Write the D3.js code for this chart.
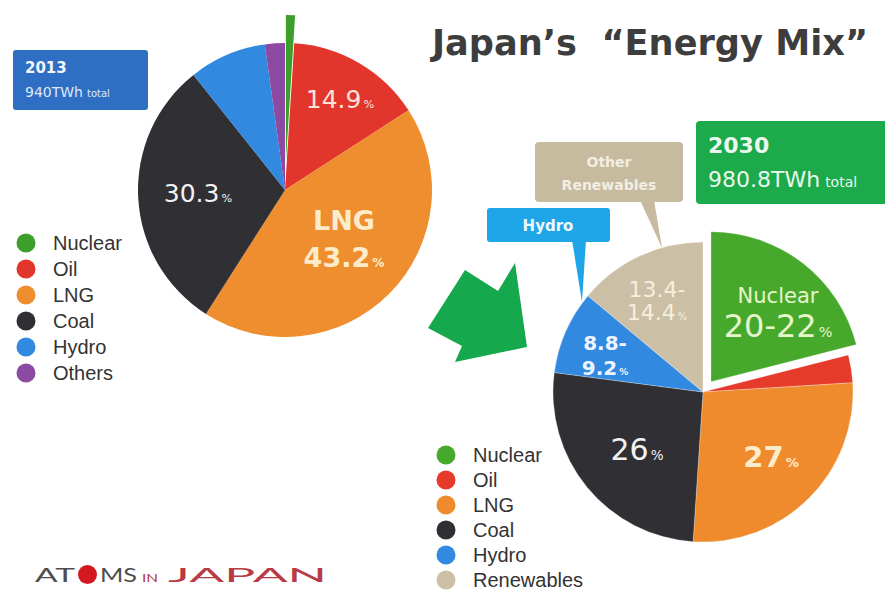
<!DOCTYPE html>
<html><head><meta charset="utf-8">
<script src="https://cdn.jsdelivr.net/npm/d3@7"></script>
<style>html,body{margin:0;padding:0;background:#fff;}svg{display:block;}</style>
</head><body>
<script>
// ---- data ----
const cats2013 = ["Nuclear","Oil","LNG","Coal","Hydro","Others"];
const vals2013 = [1.0, 14.9, 43.2, 30.3, 8.5, 2.2];
const cats2030 = ["Nuclear","Oil","LNG","Coal","Hydro","Renewables"];
const vals2030 = [21, 3, 27, 26, 9, 13.9];
const labels2013 = [
  {lines:[["14.9","%"]], dx:55, dy:-82, bold:false, color:"#fbe3dc", size:25},
  {lines:[["30.3","%"]], dx:-87, dy:12, bold:false, color:"#f2f2f2", size:25},
  {lines:[["LNG",""],["43.2","%"]], dx:59, dy:40, bold:true, color:"#fdeccb", size:27, gap:37}
];
const labels2030 = [
  {lines:[["Nuclear",""],["20-22","%"]], dx:75, dy:-89, bold:false, color:"#e6f6cc", sizes:[21,32], gap:34},
  {lines:[["13.4-",""],["14.4","%"]], dx:-46, dy:-95, bold:false, color:"#f6efdf", sizes:[22,22], gap:23},
  {lines:[["8.8-",""],["9.2","%"]], dx:-98, dy:-42, bold:true, color:"#eef4ff", sizes:[20,20], gap:25},
  {lines:[["26","%"]], dx:-66, dy:68, bold:false, color:"#f2f2f2", sizes:[30]},
  {lines:[["27","%"]], dx:68, dy:75, bold:true, color:"#fdeccb", sizes:[29]}
];
const colors2013 = {Nuclear:"#3c9f2c", Oil:"#e2352b", LNG:"#ef8e2f", Coal:"#2f2f34", Hydro:"#3189e0", Others:"#8c4aa2"};
const colors2030 = {Nuclear:"#47a92b", Oil:"#e63a2b", LNG:"#ef8b2d", Coal:"#2f2f34", Hydro:"#3189e0", Renewables:"#cbbfa5"};

const W = 885, H = 593;
const svg = d3.select("body").append("svg").attr("width", W).attr("height", H);
const FONT = "'DejaVu Sans', Verdana, sans-serif";
const LFONT = "'Liberation Sans', Arial, sans-serif";

// ---- Title ----
svg.append("text").attr("x", 432).attr("y", 55)
  .attr("font-family", FONT).attr("font-weight", "bold").attr("font-size", 36)
  .style("white-space", "pre")
  .attr("fill", "#3d3d3d").attr("textLength", 436).attr("lengthAdjust", "spacingAndGlyphs")
  .text("Japan\u2019s  \u201cEnergy Mix\u201d");

// ---- pie helper ----
function drawPie(cx, cy, r, cats, vals, colors, explode, stroke) {
  const pie = d3.pie().sort(null).value(d => d.v);
  const arcs = pie(cats.map((c, i) => ({c, v: vals[i]})));
  const arc = d3.arc().innerRadius(0).outerRadius(r);
  const g = svg.append("g").attr("transform", `translate(${cx},${cy})`);
  g.selectAll("path").data(arcs).join("path")
    .attr("d", arc)
    .attr("fill", d => colors[d.data.c])
    .attr("stroke", stroke || "none").attr("stroke-width", stroke ? 0.8 : 0)
    .attr("transform", d => {
      const e = explode[d.data.c] || 0;
      const a = (d.startAngle + d.endAngle) / 2;
      return `translate(${e * Math.sin(a)},${-e * Math.cos(a)})`;
    });
  return g;
}

function drawLabels(g, labels) {
  labels.forEach(l => {
    l.lines.forEach((ln, i) => {
      const size = l.sizes ? l.sizes[i] : l.size;
      const t = g.append("text").attr("x", l.dx).attr("y", l.dy + i * (l.gap || 0))
        .attr("text-anchor", "middle").attr("font-family", FONT)
        .attr("font-weight", l.bold ? "bold" : "normal")
        .attr("font-size", size).attr("fill", l.color);
      t.append("tspan").text(ln[0]);
      if (ln[1]) t.append("tspan").attr("font-size", size * 0.45).attr("dx", 2).text(ln[1]);
    });
  });
}

// ---- 2013 pie ----
const g1 = drawPie(285, 190, 147, cats2013, vals2013, colors2013, {Nuclear: 28}, null);
drawLabels(g1, labels2013);

// ---- 2030 pie ----
const g2 = drawPie(703, 392, 150, cats2030, vals2030, colors2030, {Nuclear: 13}, "rgba(255,255,255,0.35)");
drawLabels(g2, labels2030);

// ---- 2013 box ----
svg.append("rect").attr("x", 13).attr("y", 50).attr("width", 135).attr("height", 60).attr("rx", 3).attr("fill", "#2f6fc3");
svg.append("text").attr("x", 25).attr("y", 73).attr("font-family", FONT).attr("font-weight", "bold")
  .attr("font-size", 15).attr("fill", "#f2f6fc").text("2013");
const t13 = svg.append("text").attr("x", 25).attr("y", 97).attr("font-family", FONT)
  .attr("font-size", 14).attr("fill", "#dce8f8");
t13.append("tspan").text("940TWh");
t13.append("tspan").attr("font-size", 10).attr("dx", 4).text("total");

// ---- 2030 box ----
svg.append("rect").attr("x", 696).attr("y", 121).attr("width", 200).attr("height", 83).attr("rx", 4).attr("fill", "#1caa4b");
svg.append("text").attr("x", 708).attr("y", 153).attr("font-family", FONT).attr("font-weight", "bold")
  .attr("font-size", 22).attr("fill", "#eaf8ee").text("2030");
const t30 = svg.append("text").attr("x", 708).attr("y", 187).attr("font-family", FONT)
  .attr("font-size", 22).attr("fill", "#eaf8ee");
t30.append("tspan").text("980.8TWh");
t30.append("tspan").attr("font-size", 14).attr("dx", 5).text("total");

// ---- callouts ----
svg.append("path").attr("d", "M640,200 L654,200 L662,248 Z").attr("fill", "#c6ba9f");
svg.append("rect").attr("x", 535).attr("y", 142).attr("width", 148).attr("height", 60).attr("rx", 4).attr("fill", "#c6ba9f");
svg.append("text").attr("x", 609).attr("y", 167).attr("text-anchor", "middle").attr("font-family", FONT)
  .attr("font-weight", "bold").attr("font-size", 14).attr("fill", "#f3eee2").text("Other");
svg.append("text").attr("x", 609).attr("y", 190).attr("text-anchor", "middle").attr("font-family", FONT)
  .attr("font-weight", "bold").attr("font-size", 14).attr("fill", "#f3eee2").text("Renewables");

svg.append("path").attr("d", "M572,240 L586,240 L582,302 Z").attr("fill", "#1ea6e9");
svg.append("rect").attr("x", 487).attr("y", 208).attr("width", 123).attr("height", 34).attr("rx", 3).attr("fill", "#1ea6e9");
svg.append("text").attr("x", 548).attr("y", 231).attr("text-anchor", "middle").attr("font-family", FONT)
  .attr("font-weight", "bold").attr("font-size", 15).attr("fill", "#eef8ff").text("Hydro");

// ---- arrow ----
svg.append("polygon").attr("points", "465,270 498,291 515,263 527,347 455,362 462,346 428,328").attr("fill", "#16a84c");

// ---- legends ----
function legend(x, y0, step, cats, colors) {
  const g = svg.append("g");
  cats.forEach((c, i) => {
    g.append("circle").attr("cx", x).attr("cy", y0 + i * step).attr("r", 9.5).attr("fill", colors[c]);
    g.append("text").attr("x", x + 27).attr("y", y0 + i * step + 7).attr("font-family", LFONT)
      .attr("font-size", 20).attr("fill", "#333").text(c);
  });
}
legend(26, 243, 26, cats2013, colors2013);
legend(446, 455, 25, cats2030, colors2030);

// ---- logo ----
const LG = "Lato, 'Open Sans', sans-serif";
svg.append("text").attr("x", 35).attr("y", 582).attr("font-family", LG).attr("font-size", 20)
  .attr("fill", "#4d4d4d").attr("textLength", 40).attr("lengthAdjust", "spacingAndGlyphs").text("AT");
svg.append("circle").attr("cx", 87.5).attr("cy", 574.5).attr("r", 9.5).attr("fill", "#d41820");
svg.append("text").attr("x", 100).attr("y", 582).attr("font-family", LG).attr("font-size", 20)
  .attr("fill", "#4d4d4d").attr("textLength", 37).attr("lengthAdjust", "spacingAndGlyphs").text("MS");
svg.append("text").attr("x", 142).attr("y", 582).attr("font-family", LG).attr("font-size", 12)
  .attr("fill", "#b33a44").attr("textLength", 16).attr("lengthAdjust", "spacingAndGlyphs").text("IN");
svg.append("text").attr("x", 168).attr("y", 582).attr("font-family", LG).attr("font-size", 20)
  .attr("fill", "#b83a44").attr("textLength", 159).attr("lengthAdjust", "spacingAndGlyphs").text("JAPAN");
</script>
</body></html>
